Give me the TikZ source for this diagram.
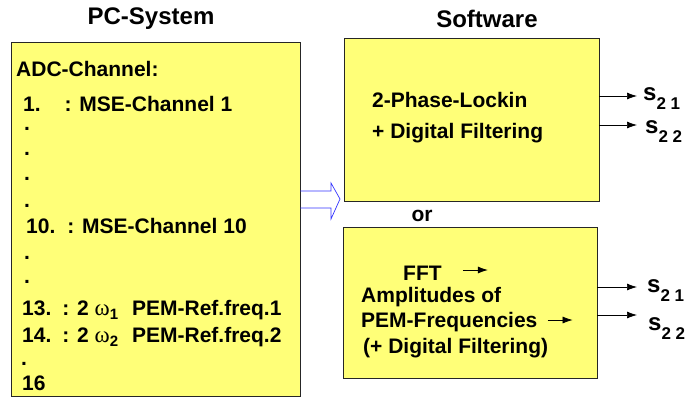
\documentclass[tikz,border=0pt]{standalone}
\usepackage{fontspec}
\setmainfont{Liberation Sans}
\newfontfamily\greekfont{Liberation Serif}
\usetikzlibrary{arrows.meta, positioning}
\definecolor{boxyellow}{RGB}{255,255,120}
\tikzstyle{block} = [rectangle, draw=black!85, fill=boxyellow, line width=0.8pt, inner sep=0pt]
\tikzstyle{txt} = [inner sep=0pt, anchor=base west, font=\fontsize{21}{25}\selectfont\bfseries]
\tikzstyle{title} = [inner sep=0pt, anchor=base, font=\fontsize{24}{28}\selectfont\bfseries]
\tikzstyle{slabel} = [inner sep=0pt, anchor=base west, font=\fontsize{24}{28}\selectfont\bfseries]
\tikzstyle{arrow} = [->, >={Latex[length=10pt,width=7pt]}, line width=0.7pt]
\newcommand{\sig}[1]{s\raisebox{-9pt}{\fontsize{17}{17}\selectfont 2 #1}}
\newcommand{\om}[1]{{\greekfont\mdseries\fontsize{23}{25}\selectfont ω}\raisebox{-4pt}{\fontsize{15}{15}\selectfont #1}}

\begin{document}
\begin{tikzpicture}[x=1pt, y=-1pt]
    \useasboundingbox (0,0) rectangle (688,397);

    % Headings
    \node[title] (pctitle) at (151,24) {PC-System};
    \node[title] (swtitle) at (487,27) {Software};

    % PC side
    \node[block, minimum width=289pt, minimum height=354pt] (pc) at (155.5,219) {};
    \node[txt] (adc) at (16,76) {ADC-Channel:};
    \node[txt] (ch1) at (23,111) {1.\hspace{24pt}: MSE-Channel 1};
    \foreach \y [count=\i] in {130,155,180,207}
        \node[txt] (dota\i) at (24,\y) {.};
    \node[txt] (ch10) at (26,233) {10.\hspace{12pt}: MSE-Channel 10};
    \foreach \y [count=\i] in {259,283}
        \node[txt] (dotb\i) at (24,\y) {.};
    \node[txt] (ch13) at (22,315) {13.\hspace{11pt}: 2 \om{1}\hspace{14pt}PEM-Ref.freq.1};
    \node[txt] (ch14) at (22,342) {14.\hspace{11pt}: 2 \om{2}\hspace{14pt}PEM-Ref.freq.2};
    \node[txt] (dotc) at (21,365) {.};
    \node[txt] (ch16) at (22,390) {16};

    % Data transfer arrow
    \draw[blue!80, line width=0.7pt] (pc.east |- 0,191) -- (331,191) -- (331,183) -- (340,199)
        -- (331,219) -- (331,208) -- (pc.east |- 0,208);

    % Lock-in branch
    \node[block, minimum width=255pt, minimum height=163pt] (lockbox) at (471.5,119.5) {};
    \node[txt] (lockin) at (372,107) {2-Phase-Lockin};
    \node[txt] (filt) at (372,138) {+ Digital Filtering};
    \coordinate (la) at (637,96);
    \coordinate (lb) at (637,125);
    \draw[arrow] (lockbox.east |- la) -- (la);
    \draw[arrow] (lockbox.east |- lb) -- (lb);
    \node[slabel] (lsa) at (643,100) {\sig{1}};
    \node[slabel] (lsb) at (645,133) {\sig{2}};

    \node[txt, anchor=base] (or) at (422,221) {or};

    % FFT branch
    \node[block, minimum width=254pt, minimum height=151pt] (fftbox) at (470,302.5) {};
    \node[txt] (fft) at (403,280) {FFT};
    \node[txt] (ampl) at (361,302) {Amplitudes of};
    \node[txt] (pemf) at (361,327) {PEM-Frequencies};
    \node[txt] (dfilt) at (363,353) {(+ Digital Filtering)};
    \draw[arrow] ([xshift=21pt,yshift=10pt]fft.base east) -- ++(25,0);
    \draw[arrow] ([xshift=10pt,yshift=7pt]pemf.base east) -- ++(25,0);
    \coordinate (fa) at (637,287);
    \coordinate (fb) at (637,315);
    \draw[arrow] (fftbox.east |- fa) -- (fa);
    \draw[arrow] (fftbox.east |- fb) -- (fb);
    \node[slabel] (fsa) at (647,292) {\sig{1}};
    \node[slabel] (fsb) at (648,330) {\sig{2}};
\end{tikzpicture}
\end{document}
